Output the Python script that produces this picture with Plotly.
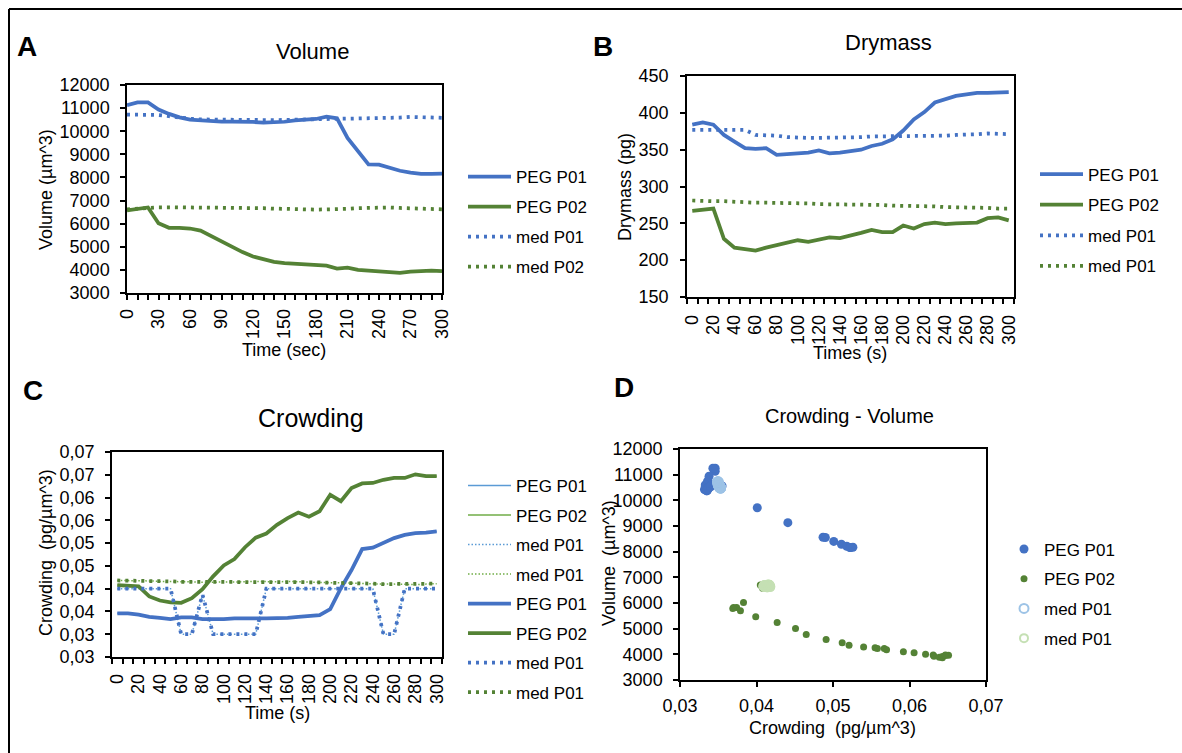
import plotly.graph_objects as go

W, H = 1182, 753
FONT = "Liberation Sans, Arial, sans-serif"
BLUE = "#4472C4"
GREEN = "#548235"
BLUE_THIN = "#5B9BD5"
GREEN_THIN = "#70AD47"
LBLUE = "#9DC3E6"
LGREEN = "#C5E0B4"

# ---------------- data ----------------
time_s = [0, 10, 20, 30, 40, 50, 60, 70, 80, 90, 100, 110, 120, 130, 140, 150,
          160, 170, 180, 190, 200, 210, 220, 230, 240, 250, 260, 270, 280, 290, 300]

# Panel A: Volume (um^3)
vol_peg_p01 = [11130, 11250, 11250, 10940, 10750, 10600, 10500, 10460, 10420, 10420, 10420,
               10420, 10400, 10370, 10370, 10410, 10470, 10510, 10530, 10630, 10560, 9710,
               9130, 8560, 8550, 8400, 8290, 8210, 8160, 8160, 8170]
vol_peg_p02 = [6570, 6640, 6700, 6020, 5820, 5820, 5790, 5700, 5460, 5240, 5010, 4770, 4580,
               4450, 4350, 4290, 4260, 4230, 4230, 4180, 4060, 4100, 4000, 3970, 3930, 3890,
               3870, 3920, 3960, 3970, 3950]
vol_med_p01 = [10720, 10720, 10720, 10700, 10650, 10580, 10540, 10510, 10500, 10490, 10490,
               10490, 10490, 10480, 10480, 10490, 10500, 10510, 10520, 10530, 10530, 10520,
               10520, 10530, 10540, 10560, 10590, 10620, 10610, 10590, 10580]
vol_med_p02 = [6620, 6650, 6690, 6710, 6710, 6710, 6710, 6710, 6710, 6700, 6700, 6690, 6680,
               6670, 6650, 6630, 6620, 6620, 6610, 6610, 6620, 6640, 6670, 6690, 6700, 6700,
               6680, 6660, 6640, 6630, 6620]

# Panel B: Drymass (pg)
dm_peg_p01 = [384, 387, 384, 370, 361, 352, 351, 352, 343, 344, 345, 346, 349, 345, 346, 348,
              350, 355, 358, 364, 376, 391, 401, 414, 418, 423, 425, 427, 427, 427, 428]
dm_peg_p02 = [267, 268, 270, 229, 217, 215, 213, 217, 220, 223, 227, 225, 228, 231, 230, 233,
              237, 241, 238, 238, 247, 243, 249, 251, 249, 250, 250, 251, 257, 258, 254]
dm_med_p01 = [377, 377, 378, 378, 378, 377, 370, 370, 369, 367, 366, 366, 366, 366, 367, 367,
              367, 368, 368, 368, 368, 368, 368, 368, 369, 370, 370, 371, 372, 372, 371]
dm_med_p02 = [281, 280, 280, 280, 279, 279, 278, 278, 278, 277, 277, 277, 276, 276, 276, 275,
              275, 275, 275, 274, 274, 274, 273, 273, 272, 272, 272, 271, 271, 270, 270]

# Panel C: Crowding (pg/um^3)
cr_peg_p01 = [0.0346, 0.0346, 0.0343, 0.0338, 0.0336, 0.0333, 0.0337, 0.0337, 0.0333, 0.0332,
              0.0333, 0.0335, 0.0336, 0.0335, 0.0335, 0.0335, 0.0336, 0.0338, 0.0340, 0.0342,
              0.0355, 0.0401, 0.0441, 0.0487, 0.0490, 0.0501, 0.0511, 0.0518, 0.0522, 0.0523,
              0.0526]
cr_peg_p02 = [0.0408, 0.0407, 0.0405, 0.0383, 0.0374, 0.0370, 0.0369, 0.0379, 0.0399, 0.0427,
              0.0451, 0.0465, 0.0491, 0.0512, 0.0521, 0.0540, 0.0555, 0.0567, 0.0558, 0.0570,
              0.0606, 0.0592, 0.0621, 0.0631, 0.0632, 0.0639, 0.0643, 0.0643, 0.0651, 0.0647,
              0.0647]
cr_med_p01 = [0.040, 0.040, 0.040, 0.040, 0.040, 0.040, 0.030, 0.030, 0.0387, 0.030, 0.030,
              0.030, 0.030, 0.030, 0.040, 0.040, 0.040, 0.040, 0.040, 0.040, 0.040, 0.040,
              0.040, 0.040, 0.040, 0.030, 0.030, 0.040, 0.040, 0.040, 0.040]
cr_med_p02 = [0.0418, 0.0418, 0.0417, 0.0417, 0.0416, 0.0416, 0.0415, 0.0415, 0.0414, 0.0414,
              0.0414, 0.0415, 0.0415, 0.0416, 0.0415, 0.0415, 0.0416, 0.0415, 0.0414, 0.0414,
              0.0413, 0.0413, 0.0412, 0.0411, 0.0411, 0.0410, 0.0410, 0.0409, 0.0409, 0.0410,
              0.0411]
# Panel D: crowding of the medium P01 cell as plotted in the scatter
cr_med_p01_scatter = [0.0350, 0.0350, 0.0349, 0.0349, 0.0350, 0.0351, 0.0352, 0.0352, 0.0352,
                      0.0353, 0.0353, 0.0353, 0.0353, 0.0353, 0.0353, 0.0353, 0.0352, 0.0352,
                      0.0352, 0.0352, 0.0352, 0.0352, 0.0352, 0.0352, 0.0351, 0.0351, 0.0350,
                      0.0350, 0.0350, 0.0351, 0.0351]

# tick labels
a_xticks = [0, 30, 60, 90, 120, 150, 180, 210, 240, 270, 300]
bc_xticks = [0, 20, 40, 60, 80, 100, 120, 140, 160, 180, 200, 220, 240, 260, 280, 300]
c_yticks = [0.025, 0.03, 0.035, 0.04, 0.045, 0.05, 0.055, 0.06, 0.065, 0.07]
c_yticklabels = ["0,03", "0,03", "0,04", "0,04", "0,05", "0,05", "0,06", "0,06", "0,07", "0,07"]
d_xticks = [0.03, 0.04, 0.05, 0.06, 0.07]
d_xticklabels = ["0,03", "0,04", "0,05", "0,06", "0,07"]


def fx(px):
    return px / W


def fy(py):
    return 1 - py / H


fig = go.Figure()


def line(x, y, name, color, width, dash, xa, ya, legend, group):
    fig.add_trace(go.Scatter(
        x=x, y=y, name=name, mode="lines",
        line=dict(color=color, width=width, dash=dash),
        xaxis=xa, yaxis=ya, legend=legend, legendgroup=group))


THICK = 3.75
DOT = "3px,5px"

# A
line(time_s, vol_peg_p01, "PEG P01", BLUE, THICK, "solid", "x", "y", "legend", "a1")
line(time_s, vol_peg_p02, "PEG P02", GREEN, THICK, "solid", "x", "y", "legend", "a2")
line(time_s, vol_med_p01, "med P01", BLUE, THICK, DOT, "x", "y", "legend", "a3")
line(time_s, vol_med_p02, "med P02", GREEN, THICK, DOT, "x", "y", "legend", "a4")
# B
line(time_s, dm_peg_p01, "PEG P01", BLUE, THICK, "solid", "x2", "y2", "legend2", "b1")
line(time_s, dm_peg_p02, "PEG P02", GREEN, THICK, "solid", "x2", "y2", "legend2", "b2")
line(time_s, dm_med_p01, "med P01", BLUE, THICK, DOT, "x2", "y2", "legend2", "b3")
line(time_s, dm_med_p02, "med P01", GREEN, THICK, DOT, "x2", "y2", "legend2", "b4")
# C (thin copies then thick)
line(time_s, cr_peg_p01, "PEG P01", BLUE_THIN, 1.5, "solid", "x3", "y3", "legend3", "c1")
line(time_s, cr_peg_p02, "PEG P02", GREEN_THIN, 1.5, "solid", "x3", "y3", "legend3", "c2")
line(time_s, cr_med_p01, "med P01", BLUE_THIN, 1.5, "1.5px,2px", "x3", "y3", "legend3", "c3")
line(time_s, cr_med_p02, "med P01", GREEN_THIN, 1.5, "1.5px,2px", "x3", "y3", "legend3", "c4")
line(time_s, cr_peg_p01, "PEG P01", BLUE, THICK, "solid", "x3", "y3", "legend3", "c5")
line(time_s, cr_peg_p02, "PEG P02", GREEN, THICK, "solid", "x3", "y3", "legend3", "c6")
line(time_s, cr_med_p01, "med P01", BLUE, THICK, DOT, "x3", "y3", "legend3", "c7")
line(time_s, cr_med_p02, "med P01", GREEN, THICK, DOT, "x3", "y3", "legend3", "c8")

# D scatter
fig.add_trace(go.Scatter(x=cr_peg_p01, y=vol_peg_p01, name="PEG P01", mode="markers",
                         marker=dict(color=BLUE, size=9), xaxis="x4", yaxis="y4",
                         legend="legend4", legendgroup="d1"))
fig.add_trace(go.Scatter(x=cr_peg_p02, y=vol_peg_p02, name="PEG P02", mode="markers",
                         marker=dict(color=GREEN, size=7), xaxis="x4", yaxis="y4",
                         legend="legend4", legendgroup="d2"))
fig.add_trace(go.Scatter(x=cr_med_p01_scatter, y=vol_med_p01, name="med P01", mode="markers",
                         marker=dict(symbol="circle-open", color=LBLUE, size=9,
                                     line=dict(width=2, color=LBLUE)),
                         xaxis="x4", yaxis="y4", legend="legend4", legendgroup="d3"))
fig.add_trace(go.Scatter(x=cr_med_p02, y=vol_med_p02, name="med P01", mode="markers",
                         marker=dict(symbol="circle-open", color=LGREEN, size=8,
                                     line=dict(width=2, color=LGREEN)),
                         xaxis="x4", yaxis="y4", legend="legend4", legendgroup="d4"))

TICKFONT = dict(family=FONT, size=18, color="black")


def axis_base(**kw):
    d = dict(showline=True, linecolor="black", linewidth=1.5, mirror=True, showgrid=False,
             zeroline=False, ticks="outside", ticklen=5, tickcolor="black", tickwidth=1.5,
             tickfont=TICKFONT, fixedrange=True, automargin=False)
    d.update(kw)
    return d


minor_bc = dict(ticks="outside", tickmode="linear", tick0=-5, dtick=10, ticklen=5,
                tickcolor="black", tickwidth=1.5)

fig.update_layout(
    width=W, height=H, margin=dict(l=0, r=0, t=0, b=0, pad=0, autoexpand=False),
    paper_bgcolor="white", plot_bgcolor="white",
    font=dict(family=FONT, color="black"),
    xaxis=axis_base(domain=[fx(127), fx(442)], anchor="y", range=[0, 300],
                    tickmode="array", tickvals=a_xticks, tickangle=-90,
                    ticklabelstandoff=2,
                    minor=dict(ticks="outside", tickmode="linear", tick0=0, dtick=10,
                               ticklen=5, tickcolor="black", tickwidth=1.5)),
    yaxis=axis_base(domain=[fy(293), fy(85)], anchor="x", range=[3000, 12000],
                    dtick=1000, tickformat="d", ticklabelstandoff=7),
    xaxis2=axis_base(domain=[fx(687), fx(1014)], anchor="y2", range=[-5, 305],
                     tickmode="array", tickvals=bc_xticks, tickangle=-90,
                     ticklabelstandoff=4,
                     tickcolor="rgba(0,0,0,0)", minor=minor_bc),
    yaxis2=axis_base(domain=[fy(297), fy(76)], anchor="x2", range=[150, 450], dtick=50,
                     ticklabelstandoff=8),
    xaxis3=axis_base(domain=[fx(112), fx(442)], anchor="y3", range=[-5, 305],
                     tickmode="array", tickvals=bc_xticks, tickangle=-90,
                     ticklabelstandoff=3,
                     tickcolor="rgba(0,0,0,0)", minor=minor_bc),
    yaxis3=axis_base(domain=[fy(657), fy(452)], anchor="x3", range=[0.025, 0.07],
                     tickmode="array", tickvals=c_yticks, ticktext=c_yticklabels,
                     ticklabelstandoff=7),
    xaxis4=axis_base(domain=[fx(680), fx(986)], anchor="y4", range=[0.03, 0.07],
                     tickmode="array", tickvals=d_xticks, ticktext=d_xticklabels,
                     ticklabelstandoff=4),
    yaxis4=axis_base(domain=[fy(680), fy(449)], anchor="x4", range=[3000, 12000],
                     dtick=1000, tickformat="d", ticklabelstandoff=7),
    showlegend=True,
)

LEGFONT = dict(family=FONT, size=17, color="black")
leg_common = dict(xanchor="left", yanchor="top", font=LEGFONT, bgcolor="rgba(0,0,0,0)",
                  itemwidth=43, tracegroupgap=4.9, traceorder="grouped", borderwidth=0)
fig.update_layout(
    legend=dict(x=fx(463), y=fy(159), **leg_common),
    legend2=dict(x=fx(1035), y=fy(156.5), **{**leg_common, "tracegroupgap": 5.5}),
    legend3=dict(x=fx(463), y=fy(468), **{**leg_common, "tracegroupgap": 4.4}),
    legend4=dict(x=fx(1004), y=fy(531.5), **{**leg_common, "itemwidth": 30,
                                             "tracegroupgap": 4.6}),
)

# texts
texts = [
    ("<b>A</b>", 27, 47, 28, 0),
    ("<b>B</b>", 603, 47, 28, 0),
    ("<b>C</b>", 33, 390, 28, 0),
    ("<b>D</b>", 624, 387, 28, 0),
    ("Volume", 312, 52, 22, 0),
    ("Drymass", 888, 43, 22, 0),
    ("Crowding", 311, 418, 25, 0),
    ("Crowding - Volume", 849, 416, 20, 0),
    ("Volume (µm^3)", 46, 190, 18, -90),
    ("Time (sec)", 284, 350, 18, 0),
    ("Drymass (pg)", 625, 187, 18, -90),
    ("Times (s)", 850, 353, 18, 0),
    ("Crowding  (pg/µm^3)", 46, 553, 18, -90),
    ("Time (s)", 277, 713, 18, 0),
    ("Volume  (µm^3)", 609, 563, 18, -90),
    ("Crowding  (pg/µm^3)", 832, 728, 18, 0),
]
for t, x, y, s, ang in texts:
    fig.add_annotation(text=t, x=fx(x), y=fy(y), xref="paper", yref="paper",
                       xanchor="center", yanchor="middle", showarrow=False,
                       textangle=ang, font=dict(family=FONT, size=s, color="black"))

# outer frame of the figure (left and top edges)
fig.add_shape(type="line", xref="paper", yref="paper", x0=fx(9), x1=fx(9), y0=0, y1=fy(9),
              line=dict(color="black", width=2))
fig.add_shape(type="line", xref="paper", yref="paper", x0=fx(9), x1=1, y0=fy(9), y1=fy(9),
              line=dict(color="black", width=2))

fig.write_html("out.html")
